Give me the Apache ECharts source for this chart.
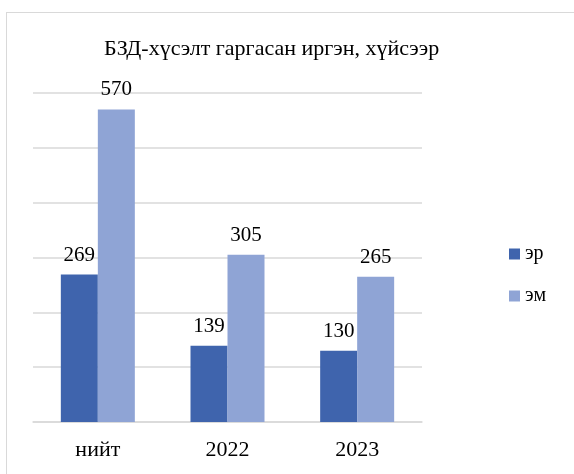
<!DOCTYPE html>
<html>
<head>
<meta charset="utf-8">
<script src="https://cdn.jsdelivr.net/npm/echarts@6/dist/echarts.min.js"></script>
<style>
html, body { margin: 0; padding: 0; background: #fff; }
#frame {
    position: absolute;
    left: 6px;
    top: 12px;
    width: 580px;
    height: 480px;
    border: 1.5px solid #d9d9d9;
    box-sizing: border-box;
}
#chart { position: absolute; left: 0; top: 0; width: 574px; height: 474px; }
</style>
</head>
<body>
<div id="frame"></div>
<div id="chart"></div>
<script>
// данные
let categories = ["нийт", "2022", "2023"];
let maleValues = [269, 139, 130];
let femaleValues = [570, 305, 265];
let seriesNames = ["эр", "эм"];

let myChart = echarts.init(document.getElementById("chart"));
let serif = "'Liberation Serif', 'Times New Roman', serif";

let labelStyle = {
    show: true,
    position: "top",
    distance: 9,
    color: "#000",
    fontFamily: serif,
    fontSize: 21,
};

let option = {
    animation: false,
    title: {
        text: "БЗД-хүсэлт гаргасан иргэн, хүйсээр",
        left: 99,
        top: 33,
        textStyle: {
            color: "#000",
            fontFamily: serif,
            fontSize: 22,
            fontWeight: "normal",
        },
    },
    legend: {
        orient: "vertical",
        left: 504,
        top: 239,
        itemWidth: 11,
        itemHeight: 11,
        itemGap: 22,
        icon: "rect",
        textStyle: {
            color: "#000",
            fontFamily: serif,
            fontSize: 20,
        },
    },
    grid: {
        left: 33,
        right: 152,
        top: 93,
        bottom: 52,
        containLabel: false,
    },
    xAxis: {
        type: "category",
        data: categories,
        axisLine: { lineStyle: { color: "#d9d9d9", width: 1.5 } },
        axisTick: { show: false },
        axisLabel: {
            color: "#000",
            fontFamily: serif,
            fontSize: 22,
            margin: 17,
        },
    },
    yAxis: {
        type: "value",
        min: 0,
        max: 600,
        interval: 100,
        axisLine: { show: false },
        axisTick: { show: false },
        axisLabel: { show: false },
        splitLine: { lineStyle: { color: "#d9d9d9", width: 1.5 } },
    },
    series: [
        {
            name: seriesNames[0],
            type: "bar",
            data: maleValues,
            barWidth: 37,
            barGap: "0%",
            itemStyle: { color: "#3f64ad" },
            label: labelStyle,
        },
        {
            name: seriesNames[1],
            type: "bar",
            data: femaleValues,
            barWidth: 37,
            barGap: "0%",
            itemStyle: { color: "#8fa4d5" },
            label: labelStyle,
        },
    ],
};

myChart.setOption(option);
</script>
</body>
</html>
